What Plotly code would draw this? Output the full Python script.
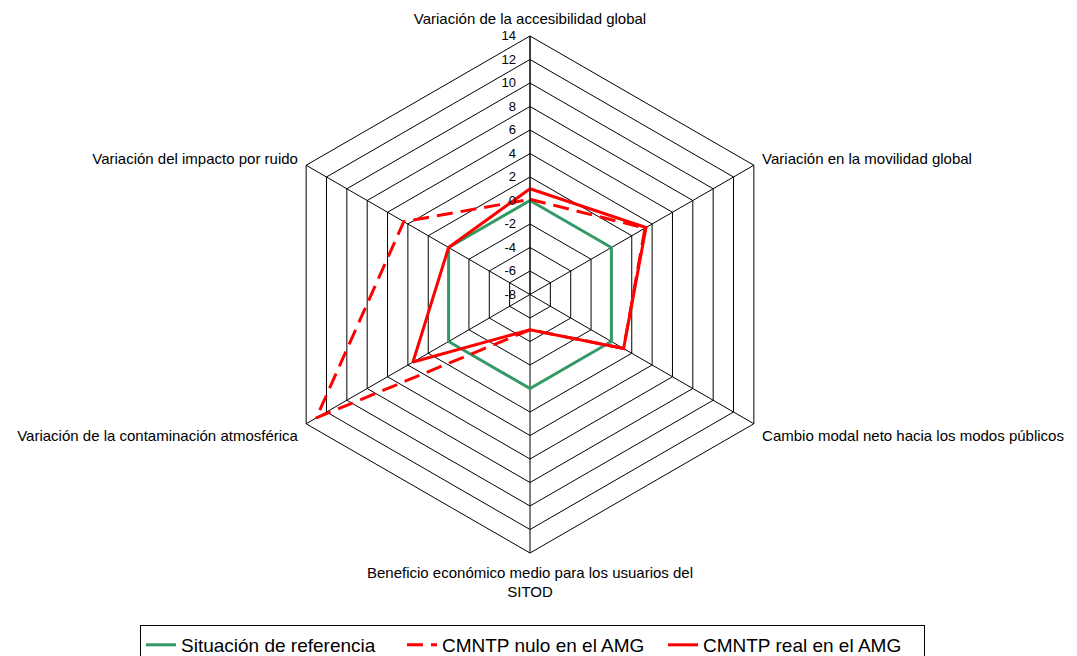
import plotly.graph_objects as go

categories = [
    "Variación de la accesibilidad global",
    "Variación en la movilidad global",
    "Cambio modal neto hacia los modos públicos",
    "Beneficio económico medio para los usuarios del<br>SITOD",
    "Variación de la contaminación atmosférica",
    "Variación del impacto por ruido",
]
referencia = [0, 0, 0, 0, 0, 0]
cmntp_nulo = [0.1, 3.3, 1.2, -5, 13, 4.4]
cmntp_real = [1, 3.4, 1.2, -5, 3.5, 0]
tick_vals = [-8, -6, -4, -2, 0, 2, 4, 6, 8, 10, 12, 14]
tick_text = [str(v) for v in tick_vals]

def closed(v):
    return list(v) + [v[0]]

theta = closed(categories)

fig = go.Figure()
fig.add_trace(go.Scatterpolar(r=closed(referencia), theta=theta, mode="lines",
                              name="Situación de referencia",
                              line=dict(color="#339966", width=3)))
fig.add_trace(go.Scatterpolar(r=closed(cmntp_nulo), theta=theta, mode="lines",
                              name="CMNTP nulo en el AMG",
                              line=dict(color="#FF0000", width=3, dash="16px,8px")))
fig.add_trace(go.Scatterpolar(r=closed(cmntp_real), theta=theta, mode="lines",
                              name="CMNTP real en el AMG",
                              line=dict(color="#FF0000", width=3)))

fig.update_layout(
    width=1077, height=656,
    paper_bgcolor="white", plot_bgcolor="white",
    font=dict(family="Liberation Sans, Arial, sans-serif", size=15, color="black"),
    margin=dict(l=0, r=33, t=28, b=111),
    polar=dict(
        bgcolor="white",
        gridshape="linear",
        radialaxis=dict(range=[-8, 14], tickvals=tick_vals, ticktext=tick_text,
                        angle=90, tickangle=90,
                        side="counterclockwise", showline=True, linecolor="black",
                        linewidth=1, gridcolor="black", gridwidth=1,
                        ticks="outside", ticklen=9, tickcolor="rgba(0,0,0,0)",
                        tickfont=dict(size=13)),
        angularaxis=dict(direction="clockwise", rotation=90, linecolor="black",
                         linewidth=1, gridcolor="black", gridwidth=1,
                         ticks="outside", ticklen=6, tickcolor="rgba(0,0,0,0)",
                         tickfont=dict(size=15)),
    ),
    legend=dict(orientation="h", xref="container", x=0.487, xanchor="center",
                yref="container", y=0.0595, yanchor="top",
                bordercolor="black", borderwidth=1, font=dict(size=19),
                itemwidth=30, entrywidth=216, tracegroupgap=0),
    showlegend=True,
)

fig.write_html("out.html")
